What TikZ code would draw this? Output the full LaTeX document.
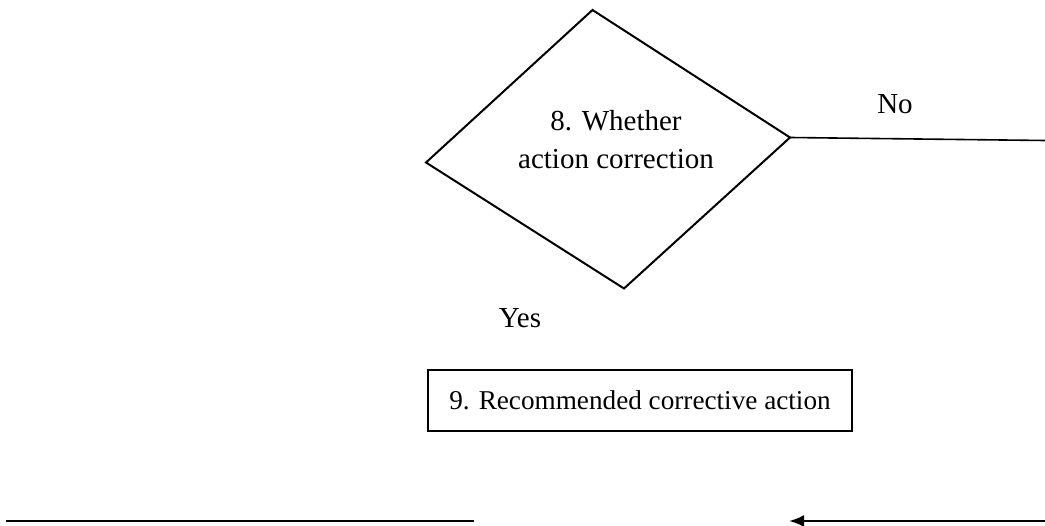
\documentclass[tikz,border=0pt]{standalone}
\usepackage{fontspec}
\setmainfont{Liberation Serif}
\usetikzlibrary{arrows.meta}
\tikzset{
  px/.style={x=1pt,y=-1pt},
  shapeline/.style={draw=black,line width=2pt,line join=miter},
  lbl/.style={font=\fontsize{29}{37.6}\selectfont,inner sep=0pt},
  boxstyle/.style={draw=black,line width=2.2pt,minimum width=424pt,minimum height=61pt,inner sep=0pt,font=\fontsize{27.2}{33}\selectfont},
  conn/.style={draw=black,line width=1.6pt},
  arrowconn/.style={draw=black,line width=2.4pt,-{Latex[length=15pt,width=12pt]}}
}
\begin{document}
\begin{tikzpicture}[px]
\useasboundingbox (0,0) rectangle (1045,526);
% diamond
\coordinate (dt) at (592.5,10);
\coordinate (dr) at (790,137.5);
\coordinate (db) at (624,288.5);
\coordinate (dl) at (426,162.5);
\draw[shapeline] (dt) -- (dr) -- (db) -- (dl) -- cycle;
\node[lbl,anchor=base,align=center] (dtext) at (616,168.3) {8. Whether\\action correction};
% No branch
\coordinate (noend) at (1045,140.5);
\draw[conn] (dr) -- (noend);
\node[lbl,anchor=base] (no) at (895,114) {No};
\node[lbl,anchor=base] (yes) at (520,328) {Yes};
% box
\node[boxstyle] (box) at (640,400.5) {9. Recommended corrective action};
% bottom lines
\coordinate (bl1) at (6,521);
\coordinate (bl2) at (473.5,521);
\draw[conn,line width=1.5pt] (bl1) -- (bl2);
\coordinate (ar1) at (1045,521);
\coordinate (ar2) at (789,521);
\draw[arrowconn] (ar1) -- (ar2);
\end{tikzpicture}
\end{document}
